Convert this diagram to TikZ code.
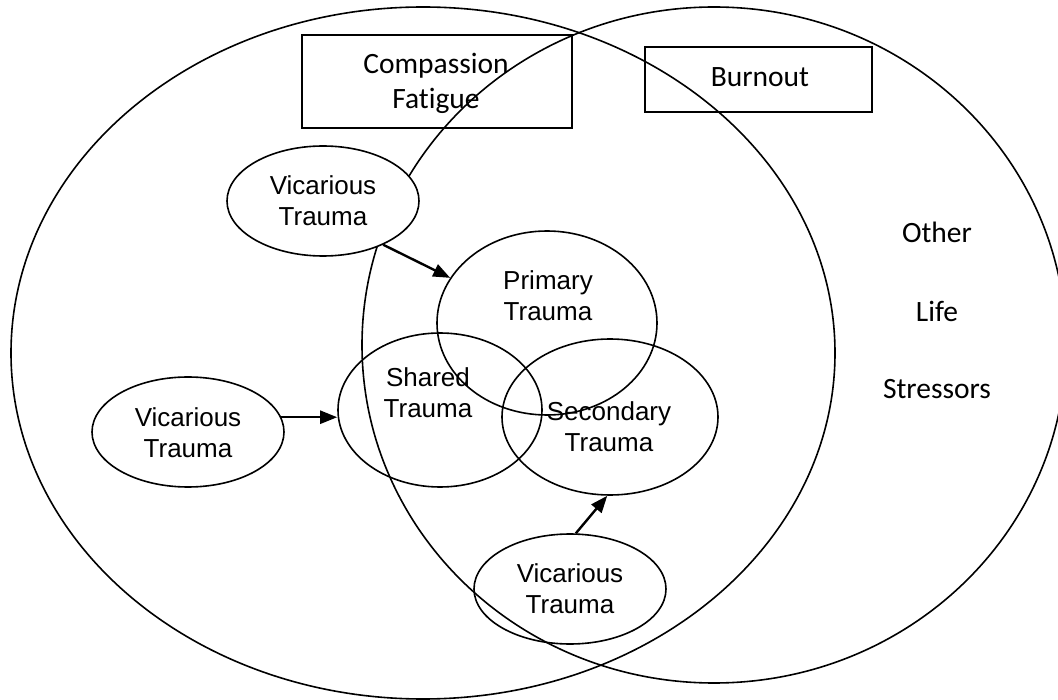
\documentclass[tikz,border=0pt]{standalone}
\usepackage{fontspec}
\newfontfamily\arialfont{Liberation Sans}
\newfontfamily\calibrifont[Ligatures=NoCommon]{Carlito}
\usetikzlibrary{positioning, arrows.meta, shapes.geometric}

\tikzset{
  ring/.style={draw, ellipse, line width=1.6pt, inner sep=0pt},
  smallring/.style={ring, minimum width=192pt, minimum height=110pt},
  tagbox/.style={draw, rectangle, line width=1.6pt, inner sep=0pt},
  shapetxt/.style={font=\arialfont\fontsize{26}{31}\selectfont, align=center, inner sep=0pt, anchor=base},
  boxtxt/.style={font=\calibrifont\fontsize{29.5}{35.5}\selectfont, align=center, inner sep=0pt, anchor=base},
  feeds/.style={-{Triangle[length=17pt, width=13pt]}, line width=2.4pt}
}

\begin{document}
\begin{tikzpicture}[x=1pt, y=-1pt]
    \useasboundingbox (0,0) rectangle (1058,700);

    % the two big sets
    \node[ring, minimum width=824pt, minimum height=692pt] (fatigue) at (423,353) {};
    \node[ring, minimum width=704pt, minimum height=676pt] (burnout) at (714,345) {};

    % headings (base = last line)
    \node[tagbox, minimum width=270pt, minimum height=93pt] (cfbox) at (437,81.5) {};
    \node[tagbox, minimum width=227pt, minimum height=65pt] (bobox) at (758.5,79.5) {};
    \node[boxtxt] (cftxt) at (436,109) {Compassion\\Fatigue};
    \node[boxtxt] (botxt) at (760,87) {Burnout};

    % overlapping trauma sets
    \node[ring, minimum width=220pt, minimum height=184pt] (primary) at (547,323) {};
    \node[ring, minimum width=204pt, minimum height=154pt] (shared) at (440,410) {};
    \node[ring, minimum width=216pt, minimum height=156pt] (secondary) at (610,417) {};

    % vicarious trauma
    \node[smallring, fill=white] (vtop) at (323,201) {};
    \node[smallring] (vleft) at (188,432) {};
    \node[smallring] (vbottom) at (570,589) {};

    \node[shapetxt] (primtxt) at (548,321) {Primary\\Trauma};
    \node[shapetxt] (shartxt) at (428,418) {Shared\\Trauma};
    \node[shapetxt] (sectxt) at (609,452) {Secondary\\Trauma};
    \node[shapetxt] (vtoptxt) at (323,226) {Vicarious\\Trauma};
    \node[shapetxt] (vlefttxt) at (188,457) {Vicarious\\Trauma};
    \node[shapetxt] (vbottxt) at (570,613) {Vicarious\\Trauma};

    % other life stressors
    \node[boxtxt] (other) at (937,243) {Other};
    \node[boxtxt] (life) at (937,322) {Life};
    \node[boxtxt] (stress) at (937,399) {Stressors};

    % arrows
    \draw[feeds] (vtop.-36) -- (primary.155);
    \draw[feeds] (vleft.9) -- (vleft.9 -| shared.west);
    \draw[feeds] (vbottom.84) -- (secondary.-92);
\end{tikzpicture}
\end{document}
